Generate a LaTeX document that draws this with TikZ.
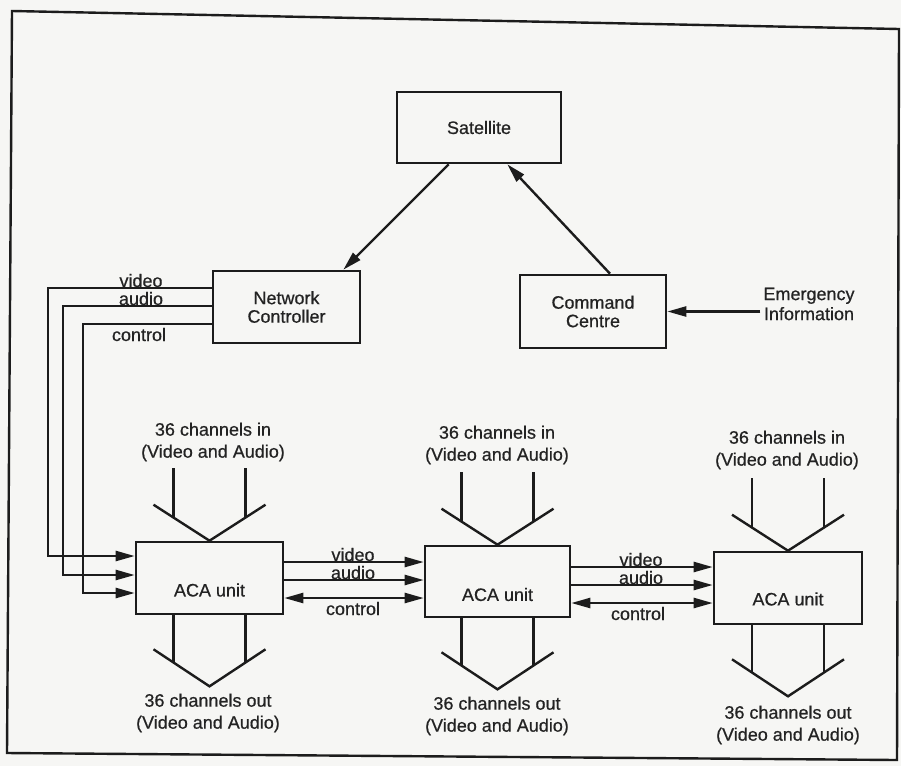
\documentclass[tikz,border=0pt]{standalone}
\usepackage{fontspec}
\setmainfont{Liberation Sans}[FakeBold=0.6]
\usetikzlibrary{arrows.meta,calc}
\definecolor{ink}{RGB}{28,28,28}
\definecolor{txtc}{RGB}{35,35,35}
\definecolor{paper}{RGB}{246,246,244}
\newcommand\funnelin[1]{%
  \draw[funnel] ($(#1.north)+(-56,-36)$) -- (#1.north) -- ($(#1.north)+(56,-36)$);
  \draw[funnel] ($(#1.north)+(-36,-23)$) -- ($(#1.north)+(-36,-73)$);
  \draw[funnel] ($(#1.north)+(36,-23)$) -- ($(#1.north)+(36,-73)$);}
\newcommand\funnelout[1]{%
  \draw[funnel] ($(#1.south)+(-56,34)$) -- ($(#1.south)+(0,71)$) -- ($(#1.south)+(56,34)$);
  \draw[funnel] ($(#1.south)+(-36,0)$) -- ($(#1.south)+(-36,47)$);
  \draw[funnel] ($(#1.south)+(36,0)$) -- ($(#1.south)+(36,47)$);}
\begin{document}
\begin{tikzpicture}[x=1pt,y=-1pt,
  box/.style={draw=ink,line width=2.6pt,minimum width=147pt,minimum height=72pt,
    inner sep=0pt,font=\fontsize{18}{18.5}\selectfont,text=txtc,align=center},
  conn/.style={draw=ink,line width=2.4pt},
  tip/.style={-{Triangle[length=19pt,width=10pt]}},
  tips/.style={{Triangle[length=19pt,width=10pt]}-{Triangle[length=19pt,width=10pt]}},
  lbl/.style={font=\fontsize{18}{22}\selectfont,text=txtc,inner sep=1pt,align=center},
  funnel/.style={draw=ink,line width=2.4pt}]
\fill[paper] (0,0) rectangle (901,766);
\useasboundingbox (0,0) rectangle (901,766);
% frame
\draw[ink,line width=2.4pt] (12,11) -- (899,29) -- (897,760) -- (7,753) -- cycle;
% boxes
\node[box,minimum width=164pt,minimum height=71pt] (sat) at (479,127.5) {Satellite};
\node[box] (nc) at (286.5,307) {Network\\Controller};
\node[box,minimum width=146pt,minimum height=73pt] (cc) at (593,311.5) {Command\\Centre};
\node[box] (aca1) at (209.5,578) {};
\node[box,minimum width=145pt,minimum height=71pt] (aca2) at (497.5,581.5) {};
\node[box,minimum width=148pt] (aca3) at (788,588) {};
\node[lbl] (aca1t) at ($(aca1.center)+(0,12)$) {ACA unit};
\node[lbl] (aca2t) at ($(aca2.center)+(0,13)$) {ACA unit};
\node[lbl] (aca3t) at ($(aca3.center)+(0,11)$) {ACA unit};
\node[lbl,font=\fontsize{18}{20}\selectfont,inner sep=3pt] (emerg) at (809,304) {Emergency\\Information};
% channel texts
\node[lbl] (in1) at (213,442) {36 channels in\\(Video and Audio)};
\node[lbl] (in2) at (497,445) {36 channels in\\(Video and Audio)};
\node[lbl] (in3) at (787,450) {36 channels in\\(Video and Audio)};
\node[lbl] (out1) at (208,713) {36 channels out\\(Video and Audio)};
\node[lbl] (out2) at (497,716) {36 channels out\\(Video and Audio)};
\node[lbl] (out3) at (788,725) {36 channels out\\(Video and Audio)};
% funnels
\funnelin{aca1}\funnelin{aca2}\funnelin{aca3}
\funnelout{aca1}\funnelout{aca2}\funnelout{aca3}
% satellite links
\draw[conn,tip] ($(sat.south west)+(53,0)$) -- ($(nc.north east)+(-18,0)$);
\draw[conn,tip] ($(cc.north)+(17,0)$) -- ($(sat.south east)+(-55,0)$);
\draw[conn,tip] (emerg.west |- cc.east) -- (cc.east);
% network controller to ACA1
\draw[conn,tip] ($(nc.west)+(0,-19)$) -| ($(aca1.west)+(-87,-22)$) -- ($(aca1.west)+(0,-22)$);
\draw[conn,tip] ($(nc.west)+(0,-1)$) -| ($(aca1.west)+(-72,-3)$) -- ($(aca1.west)+(0,-3)$);
\draw[conn,tip] ($(nc.west)+(0,17)$) -| ($(aca1.west)+(-52,15)$) -- ($(aca1.west)+(0,15)$);
\node[lbl,anchor=base] (ncv) at (141,287) {video};
\node[lbl,anchor=base] (nca) at (141,305) {audio};
\node[lbl,anchor=base] (ncc) at (139,341) {control};
% ACA1 - ACA2
\draw[conn,tip] (aca1.east |- 0,562) -- (aca2.west |- 0,562);
\draw[conn,tip] (aca1.east |- 0,580) -- (aca2.west |- 0,580);
\draw[conn,tips] (aca1.east |- 0,598) -- (aca2.west |- 0,598);
\node[lbl,anchor=base] (v12) at (353,561) {video};
\node[lbl,anchor=base] (a12) at (353,579) {audio};
\node[lbl,anchor=base] (c12) at (353,615) {control};
% ACA2 - ACA3
\draw[conn,tip] (aca2.east |- 0,567) -- (aca3.west |- 0,567);
\draw[conn,tip] (aca2.east |- 0,585) -- (aca3.west |- 0,585);
\draw[conn,tips] (aca2.east |- 0,603) -- (aca3.west |- 0,603);
\node[lbl,anchor=base] (v23) at (641,566) {video};
\node[lbl,anchor=base] (a23) at (641,584) {audio};
\node[lbl,anchor=base] (c23) at (638,620) {control};
\end{tikzpicture}
\end{document}
